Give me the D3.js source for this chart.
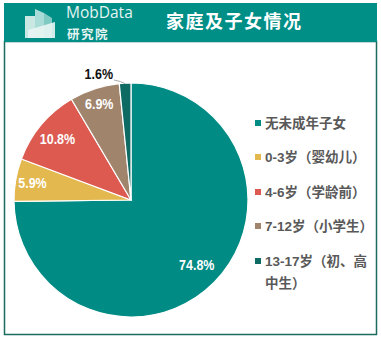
<!DOCTYPE html>
<html><head><meta charset="utf-8">
<script src="https://cdn.jsdelivr.net/npm/d3@7"></script>
<style>body{margin:0;background:#fff;}svg{display:block;}</style>
</head><body>
<script>
const categories = ["无未成年子女","0-3岁（婴幼儿）","4-6岁（学龄前）","7-12岁（小学生）","13-17岁（初、高中生）"];
const legendLines = [["无未成年子女"],["0-3岁（婴幼儿）"],["4-6岁（学龄前）"],["7-12岁（小学生）"],["13-17岁（初、高","中生）"]];
const values = [74.8, 5.9, 10.8, 6.9, 1.6];
const colors = ["#008b84","#e3b84e","#dc5a50","#a0846c","#0e6b63"];
const title = "家庭及子女情况";

const W=381,H=340;
const svg=d3.select("body").append("svg").attr("width",W).attr("height",H);
const font="Arial, 'Liberation Sans', 'Noto Sans CJK SC', sans-serif";
const cjk="Arial, 'Noto Sans CJK SC', sans-serif";

function condense(sel,f){
  sel.each(function(){const w=this.getComputedTextLength();d3.select(this).attr("textLength",w*f).attr("lengthAdjust","spacingAndGlyphs");});
}

// frame
svg.append("rect").attr("x",4.5).attr("y",41.5).attr("width",372).attr("height",293).attr("fill","#fff").attr("stroke","#1b6b5f").attr("stroke-width",1.5);
// header
svg.append("rect").attr("x",4).attr("y",3).attr("width",373).attr("height",39).attr("fill","#008f87");
// logo icon
const g0=svg.append("g");
g0.append("path").attr("d","M25,16 L35,16 L35,38 L25,38 Z").attr("fill","#c9e8e4");
g0.append("path").attr("d","M35,9 L44,13 L44,38 L35,38 Z").attr("fill","#a9dcd6");
g0.append("path").attr("d","M44,13 L52,18 L52,38 L44,38 Z").attr("fill","#7fcac2");
g0.append("path").attr("d","M28,30 L55,22 L55,38 L28,38 Z").attr("fill","#e8f5f3").attr("opacity",0.9);
svg.append("text").attr("x",66).attr("y",18).attr("fill","#e6f4f2").attr("font-family","'Open Sans', Arial, sans-serif").attr("font-size",15.5).text("MobData");
svg.append("text").attr("x",67).attr("y",38.5).attr("fill","#e6f4f2").attr("font-family","'Noto Sans CJK SC', sans-serif").attr("font-size",12.5).attr("letter-spacing",1.5).attr("font-weight","bold").text("研究院");
svg.append("text").attr("x",166).attr("y",28).attr("fill","#fff").attr("font-family","'Noto Sans CJK SC', sans-serif").attr("font-size",18).attr("font-weight","bold").attr("letter-spacing",1.5).text(title);

// pie
const cx=131,cy=200,r=117;
const pie=d3.pie().sort(null).value(d=>d)(values);
const arc=d3.arc().innerRadius(0).outerRadius(r);
const pg=svg.append("g").attr("transform",`translate(${cx},${cy})`);
pg.selectAll("path").data(pie).join("path").attr("d",arc).attr("fill",(d,i)=>colors[i]).attr("stroke","#fff").attr("stroke-width",1.2);

const labelRad=[0.79,0.855,0.82,0.87];
pie.forEach((d,i)=>{
  if(i<4){
    const la=d3.arc().innerRadius(r*labelRad[i]).outerRadius(r*labelRad[i]);
    const [x,y]=la.centroid(d);
    const t=pg.append("text").attr("x",x).attr("y",y).attr("dy","0.36em").attr("text-anchor","middle")
      .attr("fill","#fff").attr("font-family",font).attr("font-weight","bold").attr("font-size",14.5).text(values[i].toFixed(1)+"%");
    condense(t,0.86);
  } else {
    const a=(d.startAngle+d.endAngle)/2;
    const p0=[Math.sin(a)*r, -Math.cos(a)*r];
    pg.append("path").attr("d",`M${p0[0]},${p0[1]+0.5} Q${p0[0]-4},${p0[1]-2} ${-17},${-120}`).attr("fill","none").attr("stroke","#aaa").attr("stroke-width",1);
    const t=pg.append("text").attr("x",-18).attr("y",-126).attr("dy","0.36em").attr("text-anchor","end")
      .attr("fill","#111").attr("font-family",font).attr("font-weight","bold").attr("font-size",14.5).text(values[i].toFixed(1)+"%");
    condense(t,0.86);
  }
});

// legend
const ly=[123,157,192,226,261];
const lg=svg.append("g");
categories.forEach((c,i)=>{
  lg.append("rect").attr("x",255).attr("y",ly[i]-3).attr("width",6).attr("height",6).attr("fill",colors[i]);
  legendLines[i].forEach((t,j)=>{
    lg.append("text").attr("x",265).attr("y",ly[i]+j*22).attr("dy","0.36em").attr("fill","#595959")
      .attr("font-family",cjk).attr("font-weight","bold").attr("font-size",13.5).text(t);
  });
});
</script>
</body></html>
